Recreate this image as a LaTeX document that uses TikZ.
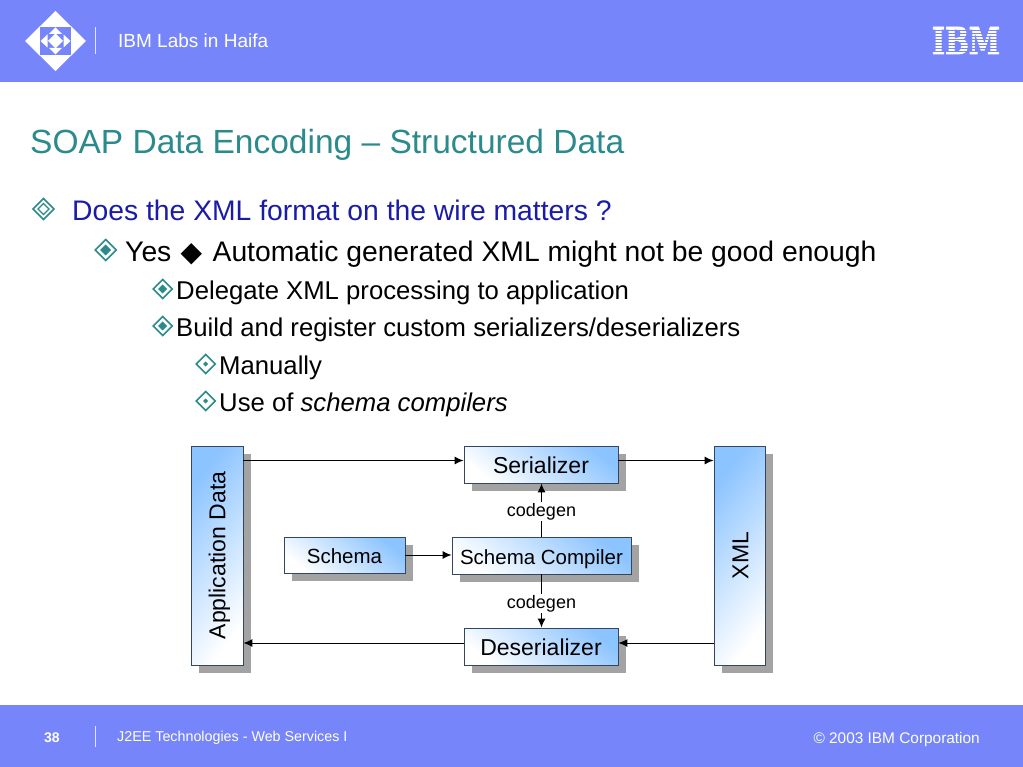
\documentclass[tikz,border=0pt]{standalone}
\usepackage{fontspec}
\usepackage{graphicx}
\setmainfont{Liberation Sans}
\newfontfamily\dejavu{DejaVu Sans}
\newfontfamily\slab[BoldFeatures={FakeBold=2.5}]{DejaVu Serif}
\usetikzlibrary{shadows,arrows.meta}
\definecolor{band}{HTML}{7686FA}
\definecolor{teal1}{HTML}{2B8A8C}
\definecolor{bltxt}{HTML}{1A1CA8}
\definecolor{boxblue}{HTML}{8CC4FF}
\definecolor{boxline}{HTML}{34465E}
\definecolor{shad}{HTML}{A3A3A3}
\newcommand{\fsz}[1]{\fontsize{#1}{#1}\selectfont}
\newcommand{\dmd}[3]{% centre x, y, half width
  \draw[teal1,line width=1.5pt,fill=white,miter limit=10] (#1-#3,#2) -- (#1,#2-#3) -- (#1+#3,#2) -- (#1,#2+#3) -- cycle;}
\tikzset{
  box/.style={draw=boxline,line width=0.9pt,inner sep=0pt,minimum width=#1,text=black,
    drop shadow={shadow xshift=8pt,shadow yshift=-8pt,fill=shad,opacity=1}},
  hbox/.style={box=#1,minimum height=37pt,text height=17pt,text depth=0pt,top color=boxblue,bottom color=white,shading angle=-38},
  vbox/.style={box=#1,minimum height=219pt,top color=boxblue,bottom color=white,shading angle=52},
  conn/.style={line width=1pt,draw=black,-{Latex[length=9pt,width=8pt]}},
  txt/.style={anchor=base west,inner sep=0pt},
  lbl/.style={fill=white,inner sep=1.5pt,font=\fsz{18}},
}
\begin{document}
\begin{tikzpicture}[x=1pt,y=-1pt]
\useasboundingbox (0,0) rectangle (1023,767);
\fill[white] (0,0) rectangle (1023,767);
\fill[band] (0,0) rectangle (1023,82);
\fill[band] (0,705) rectangle (1023,767);
% logo
\fill[white] (25,41) -- (55.5,11) -- (86,41) -- (55.5,71) -- cycle;
\fill[band] (40,27) rectangle (71,55);
\fill[white] (40.5,41) -- (47.5,34.5) -- (47.5,47.5) -- cycle;
\fill[white] (70.5,41) -- (63.5,34.5) -- (63.5,47.5) -- cycle;
\fill[white] (49,34) -- (55.5,27.5) -- (62,34) -- cycle;
\fill[white] (49,48) -- (55.5,54.5) -- (62,48) -- cycle;
\fill[white] (55.5,33.5) -- (63,41) -- (55.5,48.5) -- (48,41) -- cycle;
\draw[white!80!band,line width=1pt] (95.5,27) -- (95.5,54);
\node[txt,text=white,font=\fsz{19}] (hdr) at (118,48) {IBM Labs in Haifa};
% IBM mark
\node[inner sep=0pt,text=white] (ibm) at (966,40.5) {\resizebox{68pt}{27pt}{\slab\bfseries IBM}};
\foreach \yy in {30,33,36,39,42,45,48,51}
  \fill[band] (930,\yy) rectangle (1002,\yy+1.2);
% title
\node[txt,text=teal1,font=\fsz{33.5}] (title) at (30,154) {SOAP Data Encoding – Structured Data};
% bullets
\dmd{43.5}{209}{10.5}
\draw[teal1,line width=1.3pt] (43.5-5.5,209) -- (43.5,209-5.5) -- (43.5+5.5,209) -- (43.5,209+5.5) -- cycle;
\dmd{105.7}{250}{10.5}
\fill[teal1] (105.7-5.5,250) -- (105.7,250-5.5) -- (105.7+5.5,250) -- (105.7,250+5.5) -- cycle;
\dmd{162.7}{289}{9.5}
\fill[teal1] (162.7-4.5,289) -- (162.7,289-4.5) -- (162.7+4.5,289) -- (162.7,289+4.5) -- cycle;
\dmd{162.7}{326}{9.5}
\fill[teal1] (162.7-4.5,326) -- (162.7,326-4.5) -- (162.7+4.5,326) -- (162.7,326+4.5) -- cycle;
\dmd{205.7}{364}{9.5}
\fill[teal1] (205.7-2.5,364) -- (205.7,364-2.5) -- (205.7+2.5,364) -- (205.7,364+2.5) -- cycle;
\dmd{205.7}{401}{9.5}
\fill[teal1] (205.7-2.5,401) -- (205.7,401-2.5) -- (205.7+2.5,401) -- (205.7,401+2.5) -- cycle;
% text
\node[txt,text=bltxt,font=\fsz{28.3}] (t1) at (72,220.5) {Does the XML format on the wire matters ?};
\node[txt,font=\fsz{28.3}] (t2) at (125,261.5) {Yes\hspace{1.5pt} {\dejavu\fsz{28}\raisebox{-0.5pt}{◆}}\hspace{2.5pt} Automatic generated XML might not be good enough};
\node[txt,font=\fsz{25.7}] (t3) at (176,299.5) {Delegate XML processing to application};
\node[txt,font=\fsz{25.7}] (t4) at (176,336.5) {Build and register custom serializers/deserializers};
\node[txt,font=\fsz{25.7}] (t5) at (219,374) {Manually};
\node[txt,font=\fsz{25.7}] (t6) at (219,411) {Use of \textit{schema compilers}};
% boxes
\node[vbox=52pt] (app) at (217,555.5) {\hspace*{5pt}\rotatebox{90}{\fsz{23}Application Data}};
\node[vbox=51pt] (xml) at (739.5,555.5) {\hspace*{2pt}\rotatebox{90}{\fsz{23}XML}};
\node[hbox=154pt,font=\fsz{23}] (ser) at (541,464.5) {Serializer};
\node[hbox=154pt,font=\fsz{23}] (des) at (541,646.5) {Deserializer};
\node[hbox=121pt,minimum height=36pt,text height=16pt,font=\fsz{20.5}] (sch) at (344.5,555) {Schema};
\node[hbox=179pt,font=\fsz{20.5}] (cmp) at (541.5,555.5) {Schema Compiler};
% connectors
\coordinate (r1) at (0,460.5);
\coordinate (r2) at (0,643);
\draw[conn] (app.east |- r1) -- (ser.west |- r1);
\draw[conn] (ser.east |- r1) -- (xml.west |- r1);
\draw[conn] (xml.west |- r2) -- (des.east |- r2);
\draw[conn] (des.west |- r2) -- (app.east |- r2);
\draw[conn] (sch.east) -- (cmp.west |- sch.east);
\draw[conn] (cmp.north) -- (ser.south -| cmp.north);
\draw[conn] (cmp.south) -- (des.north -| cmp.south);
\node[lbl] (cg1) at (541.5,511.5) {codegen};
\node[lbl] (cg2) at (541.5,603.5) {codegen};
% footer
\draw[white!80!band,line width=1pt] (95.5,726) -- (95.5,747);
\node[txt,text=white,font=\fsz{14}\bfseries] (num) at (44,742) {38};
\node[txt,text=white,font=\fsz{14.3}] (ft) at (117,741) {J2EE Technologies - Web Services I};
\node[anchor=base east,inner sep=0pt,text=white,font=\fsz{15.4}] (cr) at (980,743) {© 2003 IBM Corporation};
\end{tikzpicture}
\end{document}
